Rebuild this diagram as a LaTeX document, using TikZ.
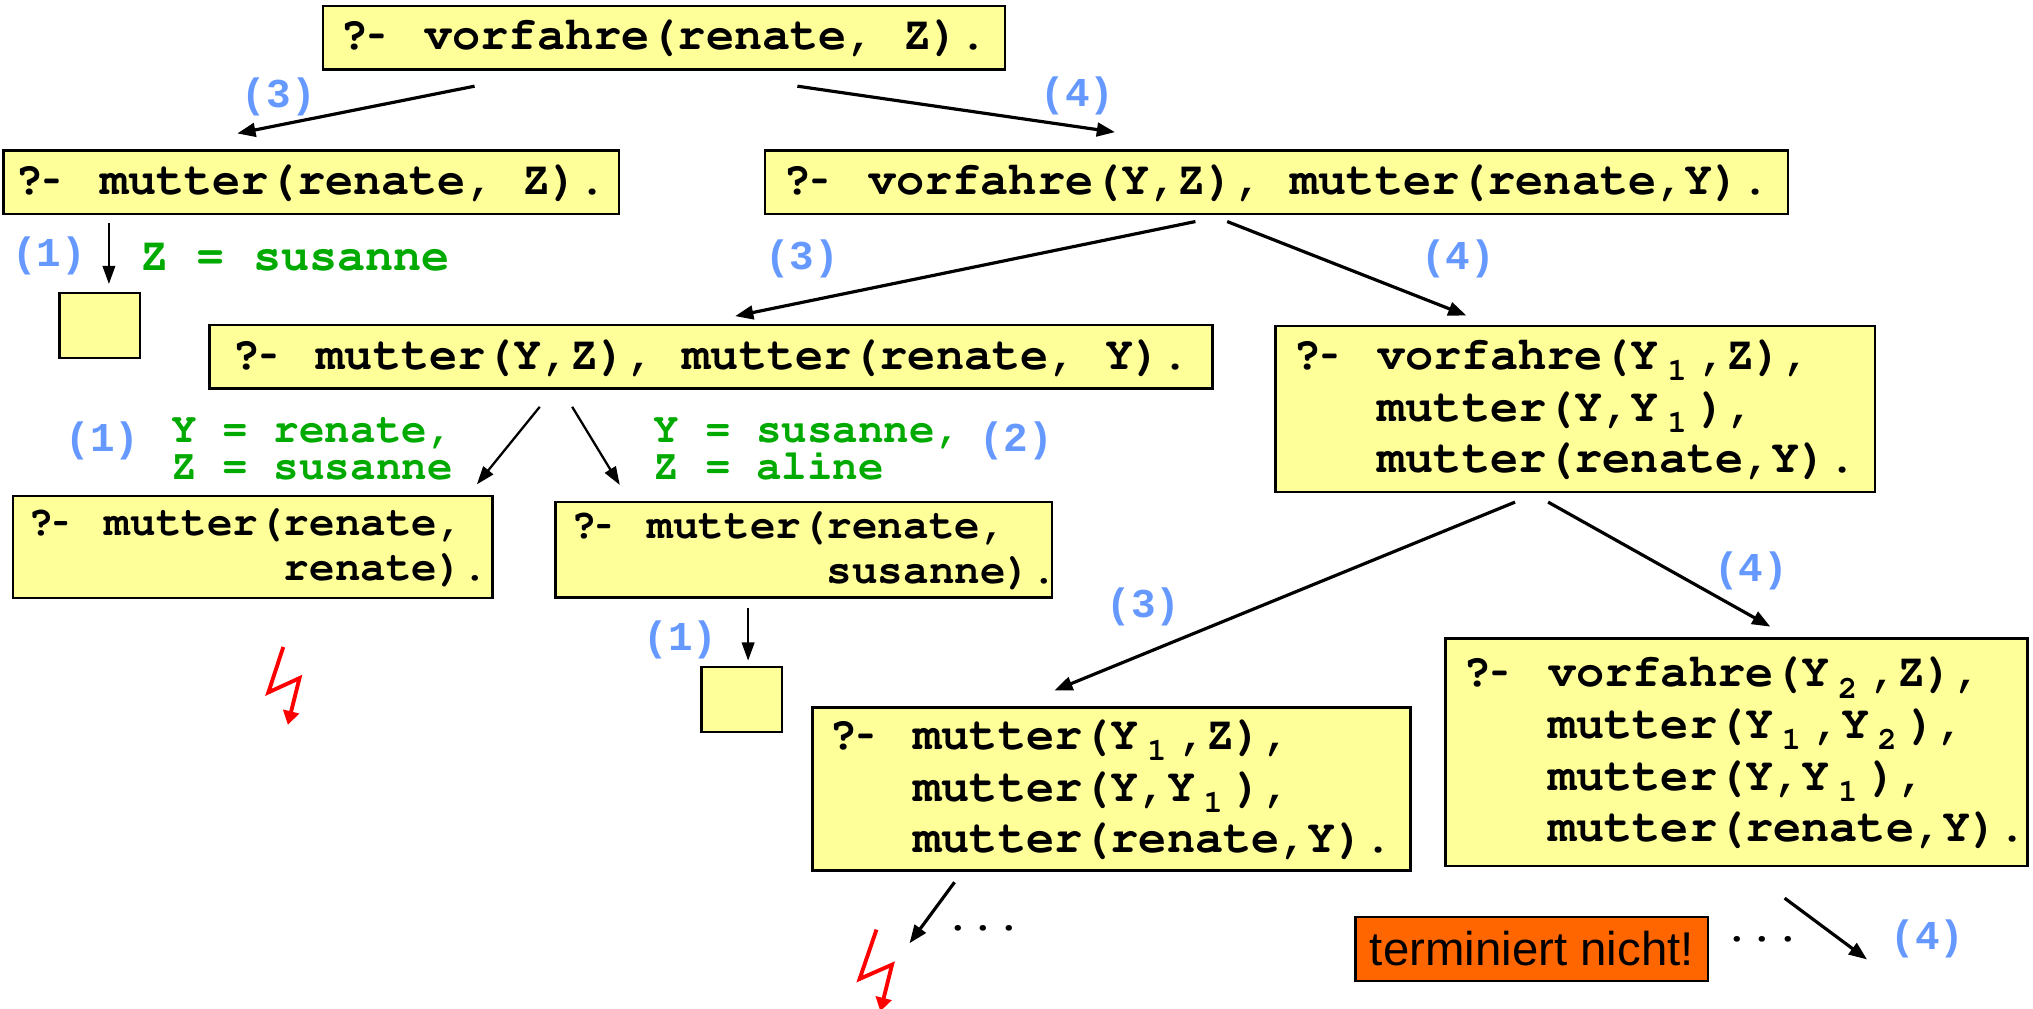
\documentclass[tikz,border=0pt]{standalone}
\usepackage[T1,TU]{fontenc}
\usepackage{fontspec}
\usepackage{graphicx}
\setmainfont{Liberation Sans}
\newfontfamily\numfont{Liberation Mono}
\usetikzlibrary{arrows.meta}

\definecolor{goalyellow}{RGB}{255,255,153}
\definecolor{rulblue}{RGB}{102,153,255}
\definecolor{bindgreen}{RGB}{0,170,0}
\definecolor{stoporange}{RGB}{255,102,0}

% Prolog-Ziele in Courier fett
\newcommand{\pl}{\fontencoding{T1}\fontfamily{pcr}\fontseries{b}\fontshape{n}\fontsize{20.6}{22.7}\selectfont\hyphenpenalty=10000 }
\newcommand{\plsm}{\fontencoding{T1}\fontfamily{pcr}\fontseries{b}\fontshape{n}\fontsize{18.7}{20}\selectfont\hyphenpenalty=10000 }
\newcommand{\rulefont}{\numfont\bfseries\fontsize{18}{18}\selectfont}
% Prompt mit kurzem Strich
\newcommand{\qd}{?\makebox[\fontcharwd\font`\-][l]{\scalebox{0.6}[1]{-}}}
% Index an Variablen, Einzug der Folgezeilen
\newcommand{\ix}[1]{\makebox[17.3pt][l]{\hspace{3.7pt}\raisebox{-5pt}{\fontsize{14}{14}\selectfont #1}}}
\newcommand{\ind}{\hspace*{37.1pt}}

\begin{document}
\begin{tikzpicture}[x=0.02cm, y=-0.02cm,
    goal/.style={draw, line width=1.1pt, fill=goalyellow, font=\pl, inner sep=0pt, minimum height=0.98cm},
    goalstack/.style={goal, align=flush left},
    emptygoal/.style={draw, line width=1.1pt, fill=goalyellow, minimum width=1.24cm, minimum height=1cm, inner sep=0pt},
    stopbox/.style={draw, line width=1.1pt, fill=stoporange, font=\fontsize{20.8}{20.8}\selectfont, minimum width=5.44cm, minimum height=0.99cm, inner sep=0pt},
    rulenum/.style={text=rulblue, font=\rulefont, inner sep=0pt},
    binding/.style={text=bindgreen, font=\plsm, inner sep=0pt, anchor=base west},
    dots/.style={font=\plsm, inner sep=0pt},
    arr/.style={-{Triangle[length=8pt,width=6pt]}, line width=1.4pt},
    thinarr/.style={-{Triangle[length=8pt,width=5.5pt]}, line width=1pt},
    blitz/.style={draw=red, line width=1.7pt, -{Triangle[length=6pt,width=7pt]}}]
    \useasboundingbox (0,0) rectangle (1568,778);
    \clip (0,0) rectangle (1568,778);
    % Anfrage
    \node[goal, minimum width=10.52cm] (root) at (512,29) {\qd{} vorfahre(renate, Z).};
    % erste Ebene
    \node[goal, minimum width=9.5cm] (gl) at (240,140.4) {\qd{} mutter(renate, Z).};
    \node[goal, minimum width=15.79cm] (gr) at (984.5,140.4) {\qd{} vorfahre(Y,Z), mutter(renate,Y).};
    \node[emptygoal] (okl) at (77,251) {};
    % zweite Ebene
    \node[goal, minimum width=15.47cm] (grl) at (548.3,275.3) {\qd{} mutter(Y,Z), mutter(renate, Y).};
    \node[goalstack, text width=8.71cm, inner xsep=0.27cm, minimum height=2.56cm] (grr) at (1215,315.3)
        {\qd{} vorfahre(Y\ix{1},Z),\\\ind mutter(Y,Y\ix{1}),\\\ind mutter(renate,Y).};
    % dritte Ebene
    \node[goalstack, font=\plsm, text width=6.92cm, inner xsep=0.24cm, minimum height=1.57cm] (grll) at (194.8,421.8)
        {\qd{} mutter(renate,\\\hspace*{112.2pt}renate).};
    \node[goalstack, font=\plsm, text width=7.18cm, inner xsep=0.24cm, minimum height=1.48cm] (grlr) at (620,424)
        {\qd{} mutter(renate,\\\hspace*{112.2pt}susanne).};
    \node[emptygoal] (oklr) at (572,539.5) {};
    \node[goalstack, text width=8.71cm, inner xsep=0.26cm, minimum height=2.52cm] (grrl) at (857.2,608.5)
        {\qd{} mutter(Y\ix{1},Z),\\\ind mutter(Y,Y\ix{1}),\\\ind mutter(renate,Y).};
    \node[goalstack, text width=8.42cm, inner xsep=0.28cm, minimum height=3.51cm] (grrr) at (1339.4,580)
        {\qd{} vorfahre(Y\ix{2},Z),\\\ind mutter(Y\ix{1},Y\ix{2}),\\\ind mutter(Y,Y\ix{1}),\\\ind mutter(renate,Y).};
    \node[stopbox] (stop) at (1181.5,731.8) {terminiert nicht!};
    % Kanten
    \draw[arr] ([shift={(-146,12)}]root.south) -- ([shift={(-57,-12)}]gl.north);
    \draw[arr] ([shift={(103,12)}]root.south) -- ([shift={(-124.5,-13)}]gr.north);
    \draw[thinarr] ([shift={(-156,6)}]gl.south) -- ([shift={(7,-6)}]okl.north);
    \draw[arr] ([shift={(-62.5,5)}]gr.south) -- ([shift={(18.7,-6)}]grl.north);
    \draw[arr] ([shift={(-38,5)}]gr.south) -- ([shift={(-84,-7)}]grr.north);
    \draw[thinarr] ([shift={(-132,13)}]grl.south) -- ([shift={(173,-8)}]grll.north);
    \draw[thinarr] ([shift={(-107,13)}]grl.south) -- ([shift={(-142,-12)}]grlr.north);
    \draw[thinarr] ([shift={(-43,7)}]grlr.south) -- ([shift={(5,-4)}]oklr.north);
    \draw[arr] ([shift={(-46.5,7)}]grr.south) -- ([shift={(-44,-12)}]grrl.north);
    \draw[arr] ([shift={(-21,7)}]grr.south) -- ([shift={(26,-8)}]grrr.north);
    \coordinate (grrlnext) at (701.5,727.5);
    \coordinate (grrrnext) at (1440,740);
    \draw[arr] ([shift={(-121,8)}]grrl.south) -- (grrlnext);
    \draw[arr] ([shift={(37,24)}]grrr.south) -- (grrrnext);
    % Regelnummern
    \node[rulenum] (r3a) at (215,75) {(3)};
    \node[rulenum] (r4a) at (831,74) {(4)};
    \node[rulenum] (r1a) at (38,197) {(1)};
    \node[rulenum] (r3b) at (618.5,200) {(3)};
    \node[rulenum] (r4b) at (1124.5,199.4) {(4)};
    \node[rulenum] (r1b) at (79,340) {(1)};
    \node[rulenum] (r2b) at (783.6,340) {(2)};
    \node[rulenum] (r1c) at (525,493.6) {(1)};
    \node[rulenum] (r3c) at (882,468) {(3)};
    \node[rulenum] (r4c) at (1350.5,440) {(4)};
    \node[rulenum] (r4d) at (1486.6,724.3) {(4)};
    % Bindungen
    \node[binding, font=\pl, anchor=west] (bz) at (108,199) {Z = susanne};
    \node[binding] (byl1) at (132,341) {Y = renate,};
    \node[binding] (byl2) at (132,370) {Z = susanne};
    \node[binding] (byr1) at (504,341) {Y = susanne,};
    \node[binding] (byr2) at (504,370) {Z = aline};
    % Fortsetzung
    \node[dots] (dl) at (758.5,715.5) {...};
    \node[dots] (dr) at (1359.4,723.7) {...};
    % Fehlschlag
    \draw[blitz] (218.5,499) -- ++(-11.5,35) -- ++(24,-11) -- ++(-9,36);
    \draw[blitz] (676,717) -- ++(-13,38) -- ++(25,-11) -- ++(-9,36);
\end{tikzpicture}
\end{document}
